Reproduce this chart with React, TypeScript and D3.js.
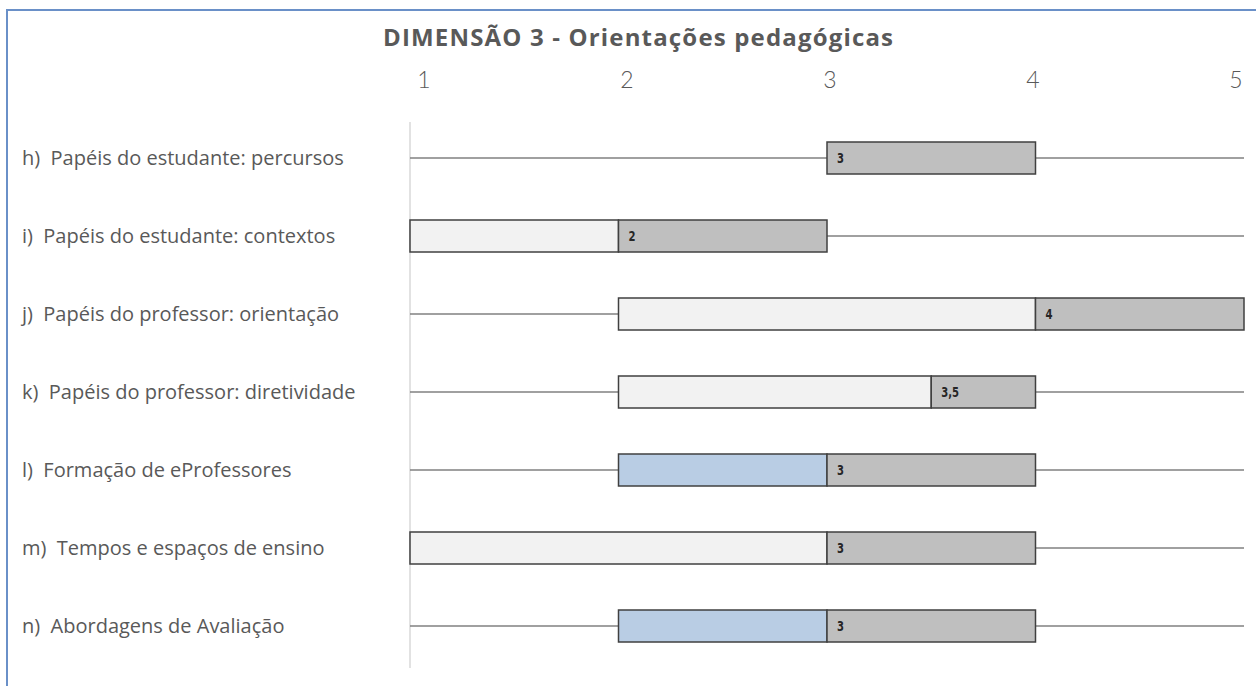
import React from "react";
import * as d3 from "d3";

const title = "DIMENSÃO 3 - Orientações pedagógicas";
const categories = [
  "h)  Papéis do estudante: percursos",
  "i)  Papéis do estudante: contextos",
  "j)  Papéis do professor: orientação",
  "k)  Papéis do professor: diretividade",
  "l)  Formação de eProfessores",
  "m)  Tempos e espaços de ensino",
  "n)  Abordagens de Avaliação",
];
const minVals = [1, 1, 1, 1, 1, 1, 1];
const q1Vals = [3, 1, 2, 2, 2, 1, 2];
const medianVals = [3, 2, 4, 3.5, 3, 3, 3];
const q3Vals = [4, 3, 5, 4, 4, 4, 4];
const maxVals = [5, 5, 5, 5, 5, 5, 5];
const highlighted = [false, false, false, false, true, false, true];
const tickValues = [1, 2, 3, 4, 5];
const tickLabels = ["1", "2", "3", "4", "5"];

const W = 1256;
const H = 686;
const FONT = "'Open Sans', 'Lato', sans-serif";

export default function App() {
  const x = d3.scaleLinear().domain([1, 5]).range([410, 1244]);
  const xLabel = d3.scaleLinear().domain([1, 5]).range([424, 1236]);
  const y = d3.scaleBand<string>().domain(categories).range([119, 665]).padding(0);
  const barH = 32;
  const fmt = (v: number) => d3.format("~g")(v).replace(".", ",");

  return (
    <svg
      width={W}
      height={H}
      style={{ position: "absolute", left: 0, top: 0, background: "#fff" }}
      fontFamily={FONT}
    >
      <rect x={0} y={0} width={W} height={H} fill="#fff" />
      <path d={`M7,${H} L7,10 L${W},10`} fill="none" stroke="#6a90c8" strokeWidth={2} />
      <text
        x={383}
        y={46}
        fontSize={24}
        fontWeight="bold"
        fill="#595959"
        textLength={510}
        lengthAdjust="spacing"
      >
        {title}
      </text>
      {tickValues.map((t, i) => (
        <text key={t} x={xLabel(t)} y={88} textAnchor="middle" fontSize={23} fill="#595959" fontFamily="'Lato', sans-serif" fontWeight={300}>
          {tickLabels[i]}
        </text>
      ))}
      <line x1={x(1)} x2={x(1)} y1={122} y2={668} stroke="#d9d9d9" strokeWidth={1.5} />
      {categories.map((c, i) => {
        const cy = (y(c) as number) + y.bandwidth() / 2;
        return (
          <g key={c}>
            <text x={22} y={cy + 7} fontSize={20} fill="#595959" xmlSpace="preserve">
              {c}
            </text>
            <line x1={x(minVals[i])} x2={x(maxVals[i])} y1={cy} y2={cy} stroke="#808080" strokeWidth={1.5} />
            {q1Vals[i] < medianVals[i] && (
              <rect
                x={x(q1Vals[i])}
                y={cy - barH / 2}
                width={x(medianVals[i]) - x(q1Vals[i])}
                height={barH}
                fill={highlighted[i] ? "#b9cde4" : "#f2f2f2"}
                stroke="#404040"
                strokeWidth={1.5}
              />
            )}
            <rect
              x={x(medianVals[i])}
              y={cy - barH / 2}
              width={x(q3Vals[i]) - x(medianVals[i])}
              height={barH}
              fill="#bfbfbf"
              stroke="#404040"
              strokeWidth={1.5}
            />
            <text
              x={x(medianVals[i]) + 10}
              y={cy + 5}
              fontSize={14}
              fontWeight="bold"
              fill="#262626"
              fontFamily="'DejaVu Sans Condensed', 'DejaVu Sans', sans-serif"
              style={{ fontStretch: "condensed" }}
              transform={`translate(${x(medianVals[i]) + 10},0) scale(0.8,1) translate(${-(x(medianVals[i]) + 10)},0)`}
            >
              {fmt(medianVals[i])}
            </text>
          </g>
        );
      })}
    </svg>
  );
}
